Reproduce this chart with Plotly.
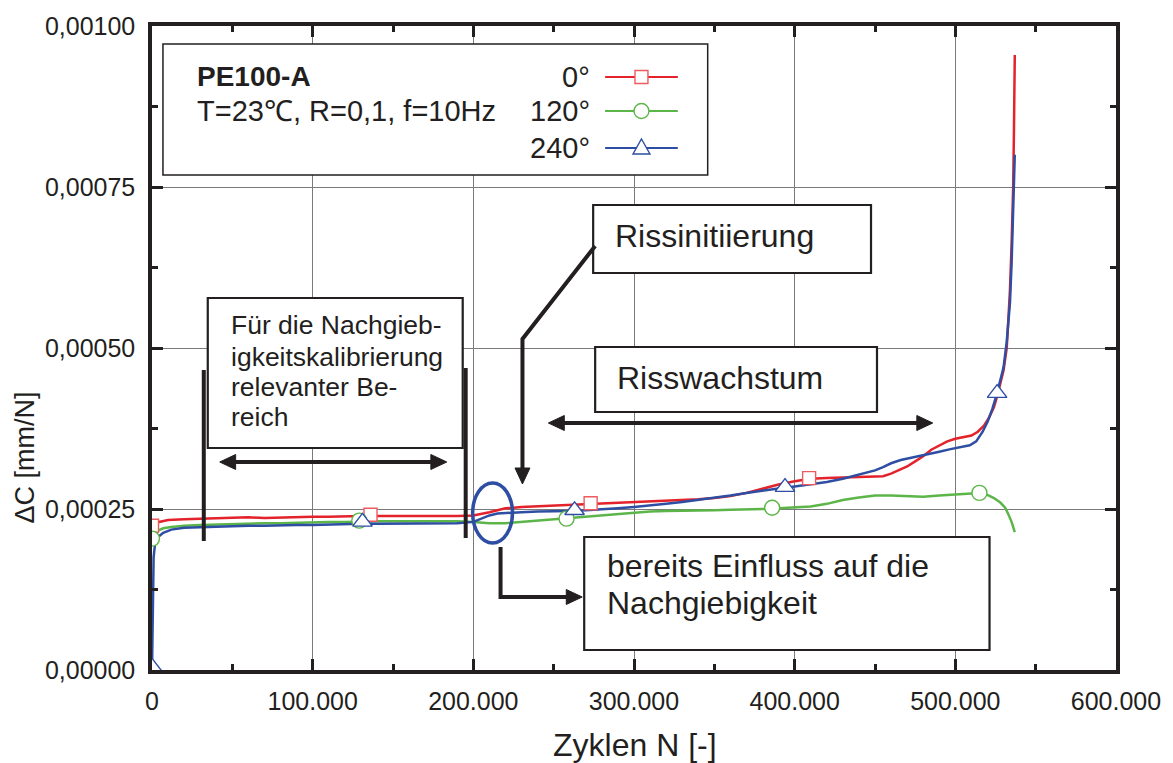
import plotly.graph_objects as go

# ---- measured compliance change vs. load cycles (N in thousands, dC in 1e-4 mm/N) ----
N_0 = [0, 1, 3, 6, 10, 20, 30, 40, 50, 60, 70, 80, 90, 100, 110, 120, 130, 140, 150, 160,
       170, 180, 190, 200, 205, 210, 215, 220, 230, 240, 250, 260, 270, 280, 290, 300, 310,
       320, 330, 340, 350, 360, 370, 380, 390, 400, 410, 420, 430, 440, 450, 455, 460, 465,
       470, 475, 480, 485, 490, 495, 500, 505, 510, 514, 518, 521, 524, 526, 528, 530, 532,
       533, 534, 535, 536, 536.5, 537]
C_0 = [2.22, 2.26, 2.29, 2.31, 2.33, 2.34, 2.35, 2.35, 2.36, 2.37, 2.36, 2.37, 2.38, 2.38,
       2.38, 2.39, 2.39, 2.39, 2.39, 2.38, 2.39, 2.38, 2.39, 2.40, 2.42, 2.45, 2.48, 2.51,
       2.53, 2.54, 2.56, 2.57, 2.58, 2.58, 2.60, 2.61, 2.61, 2.63, 2.63, 2.65, 2.67, 2.70,
       2.75, 2.82, 2.88, 2.93, 2.97, 2.98, 2.99, 2.99, 3.00, 3.01, 3.05, 3.10, 3.16, 3.24,
       3.32, 3.42, 3.49, 3.55, 3.59, 3.61, 3.64, 3.70, 3.80, 3.92, 4.08, 4.25, 4.45, 4.65,
       5.00, 5.40, 5.90, 6.60, 7.50, 8.40, 9.55]

N_120 = [0, 1, 2, 4, 7, 12, 20, 30, 40, 50, 60, 70, 80, 90, 100, 110, 120, 130, 140, 150,
         160, 170, 180, 190, 200, 205, 210, 220, 230, 240, 250, 260, 270, 280, 290, 300, 310,
         320, 330, 340, 350, 360, 370, 380, 390, 400, 410, 420, 430, 440, 450, 460, 470, 480,
         490, 500, 510, 515, 520, 524, 528, 531, 533, 535, 537]
C_120 = [1.95, 2.05, 2.12, 2.17, 2.20, 2.22, 2.24, 2.25, 2.26, 2.27, 2.27, 2.28, 2.28, 2.29,
         2.29, 2.30, 2.30, 2.31, 2.31, 2.31, 2.31, 2.32, 2.31, 2.31, 2.30, 2.29, 2.28, 2.28,
         2.30, 2.33, 2.35, 2.36, 2.38, 2.40, 2.43, 2.45, 2.46, 2.47, 2.47, 2.48, 2.48, 2.49,
         2.49, 2.50, 2.51, 2.52, 2.54, 2.58, 2.64, 2.68, 2.71, 2.71, 2.70, 2.69, 2.71, 2.73,
         2.75, 2.75, 2.72, 2.67, 2.60, 2.52, 2.42, 2.30, 2.14]

N_240 = [0, 0.3, 0.6, 1, 2, 4, 7, 12, 20, 30, 40, 50, 60, 70, 80, 90, 100, 110, 120, 130,
         140, 150, 160, 170, 180, 190, 200, 205, 210, 215, 220, 230, 240, 250, 260, 270, 280,
         290, 300, 310, 320, 330, 340, 350, 360, 370, 380, 390, 400, 410, 420, 430, 440, 450,
         455, 460, 466, 470, 476, 480, 490, 497, 503, 509, 513, 517, 520, 523, 526, 528, 530,
         532, 534, 535, 536, 537]
C_240 = [0.00, 0.60, 1.30, 1.75, 1.98, 2.07, 2.13, 2.18, 2.21, 2.22, 2.23, 2.23, 2.24, 2.24,
         2.25, 2.25, 2.25, 2.26, 2.26, 2.27, 2.27, 2.27, 2.27, 2.28, 2.27, 2.28, 2.30, 2.35,
         2.40, 2.43, 2.44, 2.45, 2.46, 2.46, 2.47, 2.48, 2.49, 2.51, 2.53, 2.55, 2.58, 2.61,
         2.64, 2.67, 2.71, 2.75, 2.79, 2.82, 2.85, 2.88, 2.92, 2.97, 3.03, 3.10, 3.15, 3.21,
         3.26, 3.28, 3.32, 3.34, 3.39, 3.43, 3.46, 3.49, 3.55, 3.70, 3.85, 4.05, 4.30, 4.50,
         4.70, 5.10, 5.70, 6.30, 7.00, 8.00]

# symbol positions along each curve
MN_0 = [0, 136, 273, 409]
MC_0 = [2.24, 2.41, 2.59, 2.98]
MN_120 = [0, 129, 258, 386, 515]
MC_120 = [2.04, 2.32, 2.35, 2.52, 2.75]
MN_240 = [0, 131, 263, 394, 526]
MC_240 = [0.05, 2.30, 2.48, 2.84, 4.30]

SERIES = ["0°", "120°", "240°"]
X_TICKS = [0, 100000, 200000, 300000, 400000, 500000, 600000]
Y_TICKS = [0, 0.00025, 0.0005, 0.00075, 0.001]

RED, GREEN, BLUE = "#e3222b", "#5cb548", "#2d4ea2"
RED_M = "#ee5b5e"
INK = "#231f20"
FONT = "Liberation Sans, Arial, Helvetica, sans-serif"

W, H = 1173, 763
L, R, T, B = 152, 1120, 26, 670   # plot area in pixels


def px(x):
    return (x - L) / (R - L)


def py(y):
    return (B - y) / (B - T)


def scaled(vals, f):
    return [v * f for v in vals]


fig = go.Figure()

curves = [(N_0, C_0, RED), (N_120, C_120, GREEN), (N_240, C_240, BLUE)]
for n, c, col in curves:
    fig.add_trace(go.Scatter(x=scaled(n, 1000), y=scaled(c, 1e-4), mode="lines",
                             line=dict(color=col, width=2.5), showlegend=False,
                             hoverinfo="skip"))

markers = [(MN_0, MC_0, "square", RED_M, 13), (MN_120, MC_120, "circle", GREEN, 15),
           (MN_240, MC_240, "triangle-up", BLUE, 17)]
for (n, c, sym, col, size), name in zip(markers, SERIES):
    fig.add_trace(go.Scatter(x=scaled(n, 1000), y=scaled(c, 1e-4), mode="markers", name=name,
                             marker=dict(symbol=sym, size=size, color="white",
                                         line=dict(color=col, width=1.4)),
                             showlegend=False, hoverinfo="skip"))

shapes = []
annotations = []


def box(x0, y0, x1, y1, lw=2.2):
    shapes.append(dict(type="rect", xref="paper", yref="paper", x0=px(x0), x1=px(x1),
                       y0=py(y1), y1=py(y0), line=dict(color=INK, width=lw),
                       fillcolor="white", layer="above"))


def seg(pts, lw=4, col=INK):
    d = "M " + " L ".join(f"{px(a):.5f},{py(b):.5f}" for a, b in pts)
    shapes.append(dict(type="path", xref="paper", yref="paper", path=d,
                       line=dict(color=col, width=lw), layer="above"))


def head(tip, direction, length=16, half=7.5):
    x, y = tip
    if direction == "right":
        pts = [(x, y), (x - length, y - half), (x - length, y + half)]
    elif direction == "left":
        pts = [(x, y), (x + length, y - half), (x + length, y + half)]
    else:  # down
        pts = [(x, y), (x - half, y - length), (x + half, y - length)]
    d = "M " + " L ".join(f"{px(a):.5f},{py(b):.5f}" for a, b in pts) + " Z"
    shapes.append(dict(type="path", xref="paper", yref="paper", path=d, fillcolor=INK,
                       line=dict(color=INK, width=1), layer="above"))


def text(x, y, s, size, anchor="left", bold=False, angle=0):
    annotations.append(dict(xref="paper", yref="paper", x=px(x), y=py(y),
                            text=f"<b>{s}</b>" if bold else s, showarrow=False,
                            xanchor=anchor, yanchor="middle", textangle=angle,
                            font=dict(family=FONT, size=size, color=INK)))


# legend panel
box(163, 44, 710, 175, lw=1.5)
text(195, 77, "PE100-A", 28, bold=True)
text(195, 111, "T=23℃, R=0,1, f=10Hz", 29)
legend_rows = [(77, RED, RED_M, "square"), (111, GREEN, GREEN, "circle"),
               (148, BLUE, BLUE, "triangle")]
for (yy, col, mcol, kind), name in zip(legend_rows, SERIES):
    text(594, yy, name, 29, anchor="right")
    seg([(607, yy), (680, yy)], lw=2, col=col)
    if kind == "square":
        shapes.append(dict(type="rect", xref="paper", yref="paper", x0=px(637), x1=px(650),
                           y0=py(yy + 6.5), y1=py(yy - 6.5), fillcolor="white",
                           line=dict(color=mcol, width=1.4), layer="above"))
    elif kind == "circle":
        shapes.append(dict(type="circle", xref="paper", yref="paper", x0=px(636), x1=px(651),
                           y0=py(yy + 7.5), y1=py(yy - 7.5), fillcolor="white",
                           line=dict(color=mcol, width=1.4), layer="above"))
    else:
        d = (f"M {px(643.5):.5f},{py(yy - 9):.5f} L {px(652):.5f},{py(yy + 6):.5f} "
             f"L {px(635):.5f},{py(yy + 6):.5f} Z")
        shapes.append(dict(type="path", xref="paper", yref="paper", path=d,
                           fillcolor="white", line=dict(color=mcol, width=1.4),
                           layer="above"))

# calibration range
box(208, 298, 464, 448)
for yy, s in [(325, "Für die Nachgieb-"), (357, "igkeitskalibrierung"),
              (387, "relevanter Be-"), (417, "reich")]:
    text(229, yy, s, 26.5)
seg([(204, 370), (204, 541)], lw=4)
seg([(467, 368), (467, 538)], lw=4)
seg([(230, 462), (438, 462)], lw=4)
head((220, 462), "left")
head((448, 462), "right")

# crack initiation
box(595, 205, 874, 273)
text(615, 236, "Rissinitiierung", 32)
seg([(597, 246), (524, 339), (524, 470)], lw=4)
head((524, 484), "down")

# crack growth
box(597, 347, 880, 412)
text(617, 378, "Risswachstum", 32)
seg([(561, 423), (925, 423)], lw=4)
head((550, 423), "left")
head((936, 423), "right")

# early influence on compliance
shapes.append(dict(type="circle", xref="paper", yref="paper", x0=px(474), x1=px(514),
                   y0=py(543), y1=py(483), line=dict(color=BLUE, width=3.5), layer="above"))
seg([(502, 547), (502, 597), (572, 597)], lw=4)
head((584, 597), "right")
box(586, 537, 993, 650)
text(607, 566, "bereits Einfluss auf die", 32)
text(607, 603, "Nachgiebigkeit", 32)

# axis titles
text(637, 745, "Zyklen N [-]", 32, anchor="center")
annotations.append(dict(xref="paper", yref="paper", x=px(24), y=py(458), text="ΔC [mm/N]",
                        showarrow=False, xanchor="center", yanchor="middle", textangle=-90,
                        font=dict(family=FONT, size=27, color=INK)))

axis_common = dict(showline=True, linewidth=3.5, linecolor=INK, mirror="ticks",
                   ticks="inside", ticklen=11, tickwidth=2.5, tickcolor=INK,
                   showgrid=True, gridcolor="#7a7a7a", gridwidth=1.2, zeroline=False,
                   tickfont=dict(family=FONT, size=25, color=INK))

fig.update_layout(
    width=W, height=H,
    margin=dict(l=L, r=W - R, t=T, b=H - B),
    paper_bgcolor="white", plot_bgcolor="white",
    separators=",.",
    showlegend=False,
    shapes=shapes, annotations=annotations,
    xaxis=dict(range=[0, 600000], tickvals=X_TICKS, tickformat=",d",
               minor=dict(dtick=50000, ticks="inside", ticklen=6, tickwidth=2.5,
                          tickcolor=INK, showgrid=False),
               ticklabelstandoff=6, **axis_common),
    yaxis=dict(range=[0, 0.001], tickvals=Y_TICKS, tickformat=".5f",
               minor=dict(dtick=0.000125, ticks="inside", ticklen=6, tickwidth=2.5,
                          tickcolor=INK, showgrid=False),
               ticklabelstandoff=8, **axis_common),
)

fig.write_html("out.html")
